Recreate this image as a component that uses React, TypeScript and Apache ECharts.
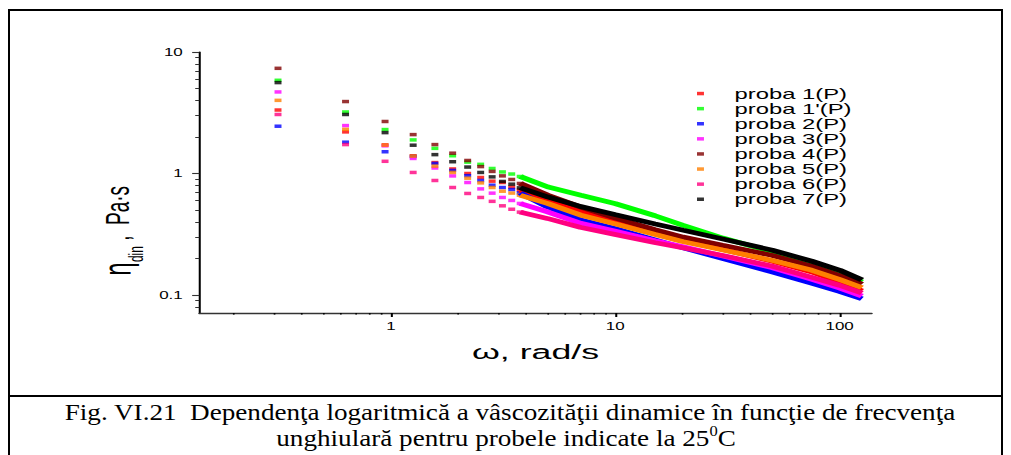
import React, { useEffect, useRef } from "react";
import * as echarts from "echarts";

// ---------- data ----------
const SERIES_NAMES = ["proba 1(P)", "proba 1'(P)", "proba 2(P)", "proba 3(P)", "proba 4(P)", "proba 5(P)", "proba 6(P)", "proba 7(P)"];
const SERIES_COLORS = ["#ff0000", "#00ff00", "#0000ff", "#ff00ff", "#800000", "#ff8000", "#ff0080", "#000000"];

// angular frequency (rad/s) of the individually visible points
const OMEGA_LOW = [0.314, 0.628, 0.942, 1.257, 1.571, 1.885, 2.199, 2.513, 2.827, 3.142, 3.456, 3.77];
// angular frequency (rad/s) sampled along the dense part of the curves
const OMEGA_HIGH = [3.77, 5, 7, 10, 15, 20, 30, 50, 75, 100, 125.7];

// dynamic viscosity (Pa·s), low-frequency points
const LOW_P1 = [3.33, 2.2, 1.72, 1.4, 1.23, 1.09, 1.0, 0.927, 0.865, 0.843, 0.771, 0.729];
const LOW_P1B = [5.85, 3.21, 2.3, 1.89, 1.61, 1.4, 1.24, 1.19, 1.1, 1.03, 0.99, 0.945];
const LOW_P2 = [2.45, 1.81, 1.51, 1.38, 1.21, 1.06, 0.96, 0.876, 0.801, 0.767, 0.738, 0.692];
const LOW_P3 = [4.69, 2.48, 1.69, 1.33, 1.11, 0.955, 0.843, 0.747, 0.689, 0.635, 0.6, 0.567];
const LOW_P4 = [7.34, 3.91, 2.68, 2.09, 1.73, 1.47, 1.28, 1.14, 1.04, 0.956, 0.893, 0.828];
const LOW_P5 = [4.0, 2.31, 1.71, 1.39, 1.15, 1.02, 0.915, 0.837, 0.767, 0.715, 0.69, 0.663];
const LOW_P6 = [3.06, 1.73, 1.26, 1.02, 0.876, 0.767, 0.685, 0.635, 0.59, 0.542, 0.508, 0.481];
const LOW_P7 = [5.6, 3.06, 2.17, 1.71, 1.43, 1.25, 1.13, 1.02, 0.938, 0.86, 0.817, 0.762];

// dynamic viscosity (Pa·s), dense high-frequency part
const HIGH_P1 = [0.729, 0.603, 0.49, 0.41, 0.33, 0.283, 0.238, 0.19, 0.155, 0.128, 0.108];
const HIGH_P1B = [0.945, 0.776, 0.665, 0.565, 0.45, 0.375, 0.295, 0.227, 0.182, 0.152, 0.128];
const HIGH_P2 = [0.692, 0.531, 0.415, 0.352, 0.285, 0.245, 0.2, 0.155, 0.125, 0.107, 0.093];
const HIGH_P3 = [0.567, 0.483, 0.39, 0.335, 0.28, 0.25, 0.21, 0.168, 0.135, 0.114, 0.098];
const HIGH_P4 = [0.828, 0.663, 0.53, 0.43, 0.345, 0.3, 0.257, 0.212, 0.173, 0.145, 0.123];
const HIGH_P5 = [0.663, 0.567, 0.455, 0.385, 0.315, 0.275, 0.235, 0.193, 0.16, 0.134, 0.115];
const HIGH_P6 = [0.481, 0.426, 0.36, 0.315, 0.27, 0.245, 0.212, 0.173, 0.14, 0.12, 0.104];
const HIGH_P7 = [0.762, 0.642, 0.535, 0.458, 0.385, 0.342, 0.29, 0.234, 0.19, 0.16, 0.133];

// axis ticks
const X_MAJOR_TICKS = [1, 10, 100];
const X_MINOR_TICKS = [0.2, 0.3, 0.4, 0.5, 0.6, 0.7, 0.8, 0.9, 2, 3, 4, 5, 6, 7, 8, 9, 20, 30, 40, 50, 60, 70, 80, 90];
const Y_MAJOR_TICKS = [0.1, 1, 10];
const Y_MINOR_TICKS = [0.08, 0.09, 0.2, 0.3, 0.4, 0.5, 0.6, 0.7, 0.8, 0.9, 2, 3, 4, 5, 6, 7, 8, 9];

const X_TITLE = "ω, rad/s";
const CAPTION_1 = "Fig. VI.21  Dependenţa logaritmică a vâscozităţii dinamice în funcţie de frecvenţa";
const CAPTION_2A = "unghiulară pentru probele indicate la 25";
const CAPTION_2B = "0";
const CAPTION_2C = "C";

const LOW = [LOW_P1, LOW_P1B, LOW_P2, LOW_P3, LOW_P4, LOW_P5, LOW_P6, LOW_P7];
const HIGH = [HIGH_P1, HIGH_P1B, HIGH_P2, HIGH_P3, HIGH_P4, HIGH_P5, HIGH_P6, HIGH_P7];

// ---------- layout ----------
const W = 1011;
const H = 455;
const STRETCH = 1.7; // the plot is a horizontally stretched picture
const PLOT_W = W / STRETCH;
const SANS = "Liberation Sans";

const fmt = (v: number) => (v < 1 ? v.toFixed(1) : String(Math.round(v)));

function buildPlotOption(): any {
  const series: any[] = [];
  SERIES_NAMES.forEach((name, i) => {
    series.push({
      name,
      type: "scatter",
      data: OMEGA_LOW.map((w, k) => [w, LOW[i][k]]),
      symbol: "rect",
      symbolSize: [4.1, 3.5],
      itemStyle: { color: SERIES_COLORS[i] },
      xAxisIndex: 0,
      yAxisIndex: 0,
      silent: true,
    });
    series.push({
      name,
      type: "line",
      data: OMEGA_HIGH.map((w, k) => [w, HIGH[i][k]]),
      symbol: "none",
      showSymbol: false,
      lineStyle: { color: SERIES_COLORS[i], width: 4.6, cap: "butt" },
      itemStyle: { color: SERIES_COLORS[i] },
      xAxisIndex: 0,
      yAxisIndex: 0,
      silent: true,
    });
  });

  const xBase = {
    type: "log",
    logBase: 10,
    min: 0.14,
    max: 139,
    gridIndex: 0,
    position: "bottom",
    splitLine: { show: false },
  };
  const yBase = {
    type: "log",
    logBase: 10,
    min: 0.0711,
    max: 10,
    gridIndex: 0,
    position: "left",
    splitLine: { show: false },
  };

  return {
    animation: false,
    backgroundColor: "transparent",
    grid: { left: 199.3 / STRETCH, top: 52, width: (871.7 - 199.3) / STRETCH, height: 261, containLabel: false },
    xAxis: [
      {
        ...xBase,
        name: X_TITLE,
        nameLocation: "middle",
        nameGap: 28,
        nameTextStyle: { fontFamily: SANS, fontSize: 21, color: "#000" },
        axisLine: { show: true, lineStyle: { color: "#333", width: 1.3 } },
        axisTick: { show: true, customValues: X_MAJOR_TICKS, length: 4, lineStyle: { color: "#000", width: 1.2 } },
        axisLabel: { customValues: X_MAJOR_TICKS, formatter: fmt, fontFamily: SANS, fontSize: 10, color: "#000", margin: 8 },
      },
      {
        ...xBase,
        axisLine: { show: false },
        axisTick: { show: true, customValues: X_MINOR_TICKS, length: 1.6, lineStyle: { color: "#000", width: 1 } },
        axisLabel: { show: false },
      },
    ],
    yAxis: [
      {
        ...yBase,
        axisLine: { show: true, lineStyle: { color: "#000", width: 1.2 } },
        axisTick: { show: true, customValues: Y_MAJOR_TICKS, length: 4.2, lineStyle: { color: "#333", width: 1.1 } },
        axisLabel: { customValues: Y_MAJOR_TICKS, formatter: fmt, fontFamily: SANS, fontSize: 10, color: "#000", margin: 9.7 },
      },
      {
        ...yBase,
        axisLine: { show: false },
        axisTick: { show: true, customValues: Y_MINOR_TICKS, length: 2.4, lineStyle: { color: "#333", width: 1 } },
        axisLabel: { show: false },
      },
    ],
    legend: {
      data: SERIES_NAMES,
      orient: "vertical",
      left: 697 / STRETCH,
      top: 86,
      padding: 0,
      icon: "rect",
      itemWidth: 4.1,
      itemHeight: 3.5,
      itemGap: 0,
      selectedMode: false,
      textStyle: { fontFamily: SANS, fontSize: 14, color: "#000", lineHeight: 15.1, padding: [0, 0, 0, 13] },
    },
    graphic: [
      {
        type: "text",
        x: 118 / STRETCH,
        y: 276,
        rotation: Math.PI / 2,
        style: {
          text: "{e|η}{s|din}{p| ,  Pa·s}",
          align: "left",
          verticalAlign: "middle",
          fill: "#000",
          rich: {
            e: { fontFamily: "DejaVu Sans", fontSize: 22, lineHeight: 34, verticalAlign: "middle", fill: "#000" },
            s: { fontFamily: SANS, fontSize: 12, lineHeight: 12, verticalAlign: "bottom", fill: "#000" },
            p: { fontFamily: SANS, fontSize: 19, lineHeight: 34, verticalAlign: "middle", fill: "#000" },
          },
        },
      },
    ],
    series,
  };
}

function buildFrameOption(): any {
  return {
    animation: false,
    backgroundColor: "#ffffff",
    graphic: [
      {
        type: "rect",
        shape: { x: 9, y: 10, width: 993, height: 470 },
        style: { fill: "none", stroke: "#000", lineWidth: 2 },
        silent: true,
      },
      {
        type: "line",
        shape: { x1: 9, y1: 396, x2: 1002, y2: 396 },
        style: { stroke: "#000", lineWidth: 2 },
        silent: true,
      },
      {
        type: "text",
        x: 510,
        y: 412,
        scaleX: 1.18,
        style: {
          text: CAPTION_1,
          font: '23px "Liberation Serif"',
          fill: "#000",
          align: "center",
          verticalAlign: "middle",
        },
      },
      {
        type: "text",
        x: 506,
        y: 437,
        scaleX: 1.18,
        style: {
          text: `{n|${CAPTION_2A}}{u|${CAPTION_2B}}{n|${CAPTION_2C}}`,
          align: "center",
          verticalAlign: "middle",
          fill: "#000",
          rich: {
            n: { fontFamily: "Liberation Serif", fontSize: 23, lineHeight: 26, verticalAlign: "bottom", fill: "#000" },
            u: { fontFamily: "Liberation Serif", fontSize: 14, lineHeight: 26, verticalAlign: "top", fill: "#000" },
          },
        },
      },
    ],
  };
}

export default function App() {
  const frameRef = useRef<HTMLDivElement>(null);
  const plotRef = useRef<HTMLDivElement>(null);

  useEffect(() => {
    if (!frameRef.current || !plotRef.current) return;
    const frame = echarts.init(frameRef.current, null, { renderer: "svg", width: W, height: H });
    frame.setOption(buildFrameOption());
    const plot = echarts.init(plotRef.current, null, { renderer: "svg", width: PLOT_W, height: H });
    plot.setOption(buildPlotOption());
    return () => {
      plot.dispose();
      frame.dispose();
    };
  }, []);

  return (
    <div style={{ position: "fixed", left: 0, top: 0, width: W, height: H, overflow: "hidden", background: "#fff" }}>
      <div ref={frameRef} style={{ position: "absolute", left: 0, top: 0, width: W, height: H }} />
      <div
        ref={plotRef}
        style={{
          position: "absolute",
          left: 0,
          top: 0,
          width: PLOT_W,
          height: H,
          transform: `scaleX(${STRETCH})`,
          transformOrigin: "0 0",
        }}
      />
    </div>
  );
}
